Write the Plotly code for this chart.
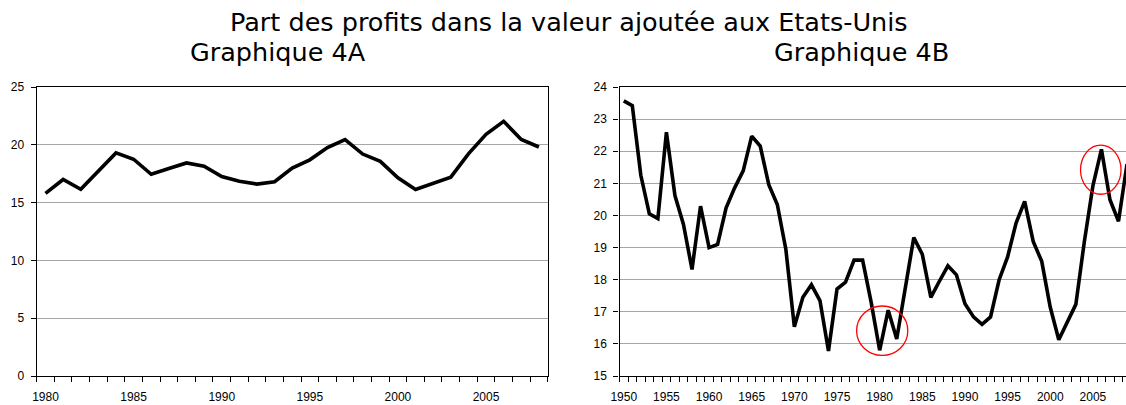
import plotly.graph_objects as go

# ---------------- data ----------------
years_a = list(range(1980, 2009))
share_a = [15.8, 17.0, 16.15, 17.7, 19.3, 18.75, 17.45, 17.95, 18.43, 18.15,
           17.25, 16.85, 16.6, 16.8, 17.98, 18.7, 19.76, 20.44, 19.2, 18.57,
           17.15, 16.13, 16.66, 17.2, 19.22, 20.9, 22.03, 20.46, 19.81]

years_b = list(range(1950, 2010))
share_b = [23.57, 23.42, 21.25, 20.05, 19.9, 22.59, 20.62, 19.72, 18.32, 20.29,
           19.0, 19.1, 20.24, 20.86, 21.39, 22.47, 22.16, 20.96, 20.34, 18.95,
           16.53, 17.45, 17.84, 17.35, 15.78, 17.71, 17.92, 18.61, 18.61, 17.3,
           15.8, 17.05, 16.15, 17.76, 19.31, 18.79, 17.45, 17.95, 18.43, 18.15,
           17.25, 16.84, 16.61, 16.84, 17.99, 18.71, 19.77, 20.44, 19.19, 18.57,
           17.14, 16.13, 16.68, 17.23, 19.19, 20.92, 22.06, 20.49, 19.82, 21.6]

ticks_a = [1980, 1985, 1990, 1995, 2000, 2005]
ticks_b = [1950, 1955, 1960, 1965, 1970, 1975, 1980, 1985, 1990, 1995, 2000, 2005]

title_main = "Part des profits dans la valeur ajoutée aux Etats-Unis"
title_a = "Graphique 4A"
title_b = "Graphique 4B"

# circled episodes (chart B): [x0, x1, y0, y1]
circles = [[1977.3, 1983.3, 15.64, 17.18],
           [2003.55, 2008.3, 20.66, 22.19]]

# ---------------- figure ----------------
W, H = 1126, 405
fig = go.Figure()
line_style = dict(color="black", width=3.6)
fig.add_trace(go.Scatter(x=years_a, y=share_a, mode="lines", line=line_style,
                         xaxis="x", yaxis="y", showlegend=False, hoverinfo="skip"))
fig.add_trace(go.Scatter(x=years_b, y=share_b, mode="lines", line=line_style,
                         xaxis="x2", yaxis="y2", showlegend=False, hoverinfo="skip"))

tick_font = dict(family="Liberation Sans, Arial, sans-serif", size=12, color="black")
grid_col = "#a6a6a6"

def xaxis(domain, rng, tickvals, anchor, start):
    return dict(domain=domain, range=rng, anchor=anchor, tickmode="array",
                tickvals=tickvals, ticks="", ticklen=0, showgrid=False,
                showline=True, linecolor="black", linewidth=1.4, mirror=True,
                tickfont=tick_font, ticklabelstandoff=9, zeroline=False,
                automargin=False,
                minor=dict(tick0=start, dtick=1, ticks="outside", ticklen=5,
                           tickcolor="black", tickwidth=1, showgrid=False))

def yaxis(rng, dtick, anchor):
    return dict(domain=[29 / H, 1 - 87 / H], range=rng, dtick=dtick, tick0=rng[0],
                anchor=anchor, ticks="outside", ticklen=5, tickcolor="black",
                showgrid=True, gridcolor=grid_col, gridwidth=1,
                showline=True, linecolor="black", linewidth=1.4, mirror=True,
                tickfont=tick_font, ticklabelstandoff=4, zeroline=False,
                automargin=False)

fig.update_layout(
    width=W, height=H,
    margin=dict(l=0, r=0, t=0, b=0, pad=0),
    paper_bgcolor="white", plot_bgcolor="white",
    xaxis=xaxis([36.7 / W, 547.7 / W], [1979.5, 2008.5], ticks_a, "y", 1979.5),
    yaxis=yaxis([0, 25], 5, "x"),
    xaxis2=xaxis([619.5 / W, 1.0], [1949.5, 2008.88], ticks_b, "y2", 1949.5),
    yaxis2=yaxis([15, 24], 1, "x2"),
    showlegend=False,
)

title_font = dict(family="DejaVu Sans, Verdana, sans-serif", size=25.5, color="black")
fig.add_annotation(text=title_main, xref="paper", yref="paper", x=569 / W, y=1 - 22 / H,
                   showarrow=False, font=title_font, xanchor="center", yanchor="middle")
fig.add_annotation(text=title_a, xref="paper", yref="paper", x=278 / W, y=1 - 52 / H,
                   showarrow=False, font=title_font, xanchor="center", yanchor="middle")
fig.add_annotation(text=title_b, xref="paper", yref="paper", x=861 / W, y=1 - 52 / H,
                   showarrow=False, font=title_font, xanchor="center", yanchor="middle")

for c in circles:
    fig.add_shape(type="circle", xref="x2", yref="y2", x0=c[0], x1=c[1], y0=c[2], y1=c[3],
                  line=dict(color="red", width=1.3))

fig.write_html("out.html", config={"displayModeBar": False},
               post_script="document.body.style.margin='0';document.body.style.overflow='hidden';")
